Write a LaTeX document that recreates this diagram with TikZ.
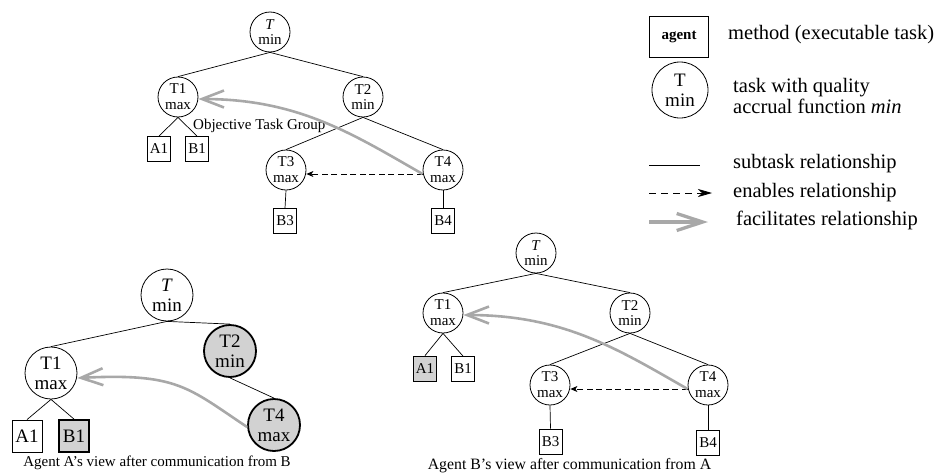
\documentclass[tikz,border=0pt]{standalone}
\usepackage{fontspec}
\setmainfont{Liberation Serif}
\usetikzlibrary{arrows.meta}
\definecolor{facgray}{RGB}{168,168,168}
\definecolor{fillgray}{RGB}{210,210,210}
\tikzset{
  tsk/.style={circle,draw,line width=0.8pt,inner sep=0pt,minimum size=40pt,align=center,font=\fontsize{15}{15.8}\selectfont},
  btsk/.style={circle,draw,line width=0.8pt,inner sep=0pt,minimum size=52pt,align=center,font=\fontsize{19}{20}\selectfont},
  mth/.style={rectangle,draw,line width=0.8pt,inner sep=0pt,minimum width=23pt,minimum height=25pt,font=\fontsize{15}{15}\selectfont},
  bmth/.style={rectangle,draw,line width=0.8pt,inner sep=0pt,minimum width=30pt,minimum height=32pt,font=\fontsize{19}{19}\selectfont},
  shaded/.style={fill=fillgray,line width=1.8pt},
  sub/.style={line width=0.7pt},
  enab/.style={line width=0.8pt,dash pattern=on 6pt off 3.5pt,-{Stealth[length=7pt,width=6pt,inset=2pt]}},
  facil/.style={draw=facgray,line width=2.6pt,-{Straight Barb[length=22pt,width=17pt]}},
  lbl/.style={anchor=base west,inner sep=0pt,font=\fontsize{20.5}{21}\selectfont},
  captxt/.style={inner sep=0pt,font=\fontsize{15}{15}\selectfont}
}
\begin{document}
\begin{tikzpicture}[x=1pt,y=-1pt]
\useasboundingbox (0,0) rectangle (937,474);

% ---- top tree ----
\node[tsk] (tR) at (270,32) {\textit{T}\\min};
\node[tsk] (tT1) at (178,97) {T1\\max};
\node[tsk] (tT2) at (363,97) {T2\\min};
\node[tsk] (tT3) at (286,170) {T3\\max};
\node[tsk] (tT4) at (443,170) {T4\\max};
\node[mth] (tA1) at (159,149) {A1};
\node[mth] (tB1) at (197,149) {B1};
\node[mth] (tB3) at (285,221) {B3};
\node[mth] (tB4) at (443,221) {B4};
\node[anchor=west,inner sep=0pt,font=\fontsize{15}{15}\selectfont] (otg) at (193,126) {Objective Task Group};
\draw[sub] (tR.south) -- (tT1.north);
\draw[sub] (tR.south) -- (tT2.north);
\draw[sub] (tT1.south) -- (tA1.north);
\draw[sub] (tT1.south) -- (tB1.north);
\draw[sub] (tT2.south) -- (tT3.north);
\draw[sub] (tT2.south) -- (tT4.north);
\draw[sub] (tT3.south) -- (tB3.north);
\draw[sub] (tT4.south) -- (tB4.north);
\draw[enab] ([yshift=-4pt]tT4.west) -- ([yshift=-4pt]tT3.east);
\draw[facil] ([yshift=-4pt]tT4.west) .. controls +(-70,-40) and +(100,0) .. ([yshift=-2pt]tT1.east);

% ---- bottom-left tree (Agent A) ----
\node[btsk] (lR) at (167,295) {\textit{T}\\min};
\node[btsk] (lT1) at (51,373) {T1\\max};
\node[btsk,shaded] (lT2) at (230,351) {T2\\min};
\node[btsk,shaded] (lT4) at (274,425) {T4\\max};
\node[bmth] (lA1) at (27,436) {A1};
\node[bmth,shaded] (lB1) at (74,436) {B1};
\draw[sub] (lR.south) -- (lT1.north);
\draw[sub] (lR.south) -- (lT2.north);
\draw[sub] (lT2.south) -- (lT4.north);
\draw[sub] (lT1.south) -- (lA1.north);
\draw[sub] (lT1.south) -- (lB1.north);
\draw[facil] ([yshift=-2pt]lT4.west) .. controls +(-60,-40) and +(100,-5) .. ([yshift=-5pt]lT1.east);
\node[captxt] (capA) at (157,463) {Agent A's view after communication from B};

% ---- bottom-right tree (Agent B) ----
\node[tsk] (rR) at (536,253) {\textit{T}\\min};
\node[tsk] (rT1) at (443,313) {T1\\max};
\node[tsk] (rT2) at (630,313) {T2\\min};
\node[tsk] (rT3) at (550,385) {T3\\max};
\node[tsk] (rT4) at (708,385) {T4\\max};
\node[mth,shaded] (rA1) at (425,369) {A1};
\node[mth] (rB1) at (463,369) {B1};
\node[mth] (rB3) at (550.5,441.5) {B3};
\node[mth] (rB4) at (708,442.5) {B4};
\draw[sub] (rR.south) -- (rT1.north);
\draw[sub] (rR.south) -- (rT2.north);
\draw[sub] (rT1.south) -- (rA1.north);
\draw[sub] (rT1.south) -- (rB1.north);
\draw[sub] (rT2.south) -- (rT3.north);
\draw[sub] (rT2.south) -- (rT4.north);
\draw[sub] (rT3.south) -- (rB3.north);
\draw[sub] (rT4.south) -- (rB4.north);
\draw[enab] ([yshift=-4pt]rT4.west) -- ([yshift=-4pt]rT3.east);
\draw[facil] ([yshift=-4pt]rT4.west) .. controls +(-70,-40) and +(100,0) .. ([yshift=-2pt]rT1.east);
\node[captxt,font=\fontsize{15.8}{16}\selectfont] (capB) at (569.5,465.5) {Agent B's view after communication from A};

% ---- legend ----
\node[rectangle,draw,line width=0.8pt,minimum width=59pt,minimum height=41pt,inner sep=0pt,font=\fontsize{15}{15}\selectfont\bfseries] (lgA) at (679,37) {agent};
\node[lbl] (lgAt) at (728,39) {method (executable task)};
\node[circle,draw,line width=0.8pt,minimum size=56pt,inner sep=0pt,align=center,font=\fontsize{19}{20}\selectfont] (lgT) at (680,90) {T\\min};
\node[lbl] (lgTt1) at (733,92) {task with quality};
\node[lbl] (lgTt2) at (733,113) {accrual function \textit{min}};
\coordinate (s1) at (649,165);
\coordinate (s2) at (700,165);
\draw[sub] (s1) -- (s2);
\node[lbl] (lgS) at (733,168) {subtask relationship};
\coordinate (e1) at (649,193);
\coordinate (e2) at (712,193);
\draw[line width=0.8pt,dash pattern=on 7pt off 5pt,-{Stealth[length=14pt,width=8pt,inset=4pt]}] (e1) -- (e2);
\node[lbl] (lgE) at (733,197) {enables relationship};
\coordinate (f1) at (649,222);
\coordinate (f2) at (708,222);
\draw[draw=facgray,line width=3.3pt,-{Straight Barb[length=26pt,width=17pt]}] (f1) -- (f2);
\node[lbl] (lgF) at (736,225) {facilitates relationship};
\end{tikzpicture}
\end{document}
